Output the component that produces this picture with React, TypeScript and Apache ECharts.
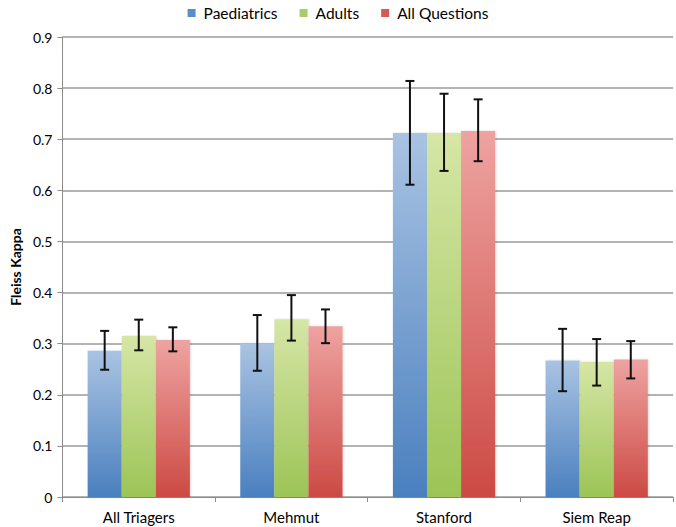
import React, { useEffect, useRef } from "react";
import * as echarts from "echarts";

const categories = ["All Triagers", "Mehmut", "Stanford", "Siem Reap"];
const seriesNames = ["Paediatrics", "Adults", "All Questions"];
const paediatrics = [0.286, 0.301, 0.712, 0.267];
const paediatricsLow = [0.249, 0.247, 0.611, 0.207];
const paediatricsHigh = [0.325, 0.356, 0.814, 0.329];
const adults = [0.315, 0.348, 0.712, 0.264];
const adultsLow = [0.287, 0.306, 0.638, 0.218];
const adultsHigh = [0.347, 0.395, 0.789, 0.309];
const allQuestions = [0.307, 0.334, 0.716, 0.269];
const allQuestionsLow = [0.285, 0.301, 0.657, 0.232];
const allQuestionsHigh = [0.332, 0.367, 0.778, 0.305];

const colorsTop = ["#a9c3e2", "#d6e6a6", "#eea3a1"];
const colorsBottom = ["#4a80bf", "#9cc456", "#cc4a44"];
const legendColors = ["#5b8dc8", "#a8cc6a", "#d45a55"];

const CAT_GAP = 0.33;

export default function App() {
  const ref = useRef<HTMLDivElement>(null);
  useEffect(() => {
    if (!ref.current) return;
    const chart = echarts.init(ref.current, null, { renderer: "svg" });
    const values = [paediatrics, adults, allQuestions];
    const lows = [paediatricsLow, adultsLow, allQuestionsLow];
    const highs = [paediatricsHigh, adultsHigh, allQuestionsHigh];

    const barSeries = seriesNames.map((name, i) => ({
      name,
      type: "bar",
      data: values[i],
      barGap: "0%",
      barCategoryGap: CAT_GAP * 100 + "%",
      itemStyle: {
        color: new echarts.graphic.LinearGradient(0, 0, 0, 1, [
          { offset: 0, color: colorsTop[i] },
          { offset: 1, color: colorsBottom[i] },
        ]),
        shadowColor: "rgba(0,0,0,0.15)",
        shadowBlur: 2,
        shadowOffsetX: 1,
      },
      z: 2,
    }));

    const errSeries = seriesNames.map((name, i) => ({
      type: "custom",
      name: name + " error",
      data: categories.map((_, k) => [k, lows[i][k], highs[i][k]]),
      z: 5,
      renderItem: (params: any, api: any) => {
        const k = api.value(0);
        const lo = api.coord([k, api.value(1)]);
        const hi = api.coord([k, api.value(2)]);
        const band = api.size([1, 0])[0];
        const bw = (band * (1 - CAT_GAP)) / 3;
        const x = lo[0] + (i - 1) * bw;
        const cap = 4.5;
        const style = { stroke: "#111", lineWidth: 2 };
        return {
          type: "group",
          children: [
            { type: "line", shape: { x1: x, y1: lo[1], x2: x, y2: hi[1] }, style },
            { type: "line", shape: { x1: x - cap, y1: lo[1], x2: x + cap, y2: lo[1] }, style },
            { type: "line", shape: { x1: x - cap, y1: hi[1], x2: x + cap, y2: hi[1] }, style },
          ],
        };
      },
    }));

    chart.setOption({
      animation: false,
      backgroundColor: "#ffffff",
      textStyle: { fontFamily: "Lato" },
      legend: {
        data: seriesNames.map((n, i) => ({ name: n, itemStyle: { color: legendColors[i] } })),
        top: 0,
        left: "center",
        itemWidth: 8,
        itemHeight: 8,
        itemGap: 22,
        icon: "rect",
        textStyle: { fontSize: 15.5, color: "#000", fontFamily: "Lato", padding: [0, 0, 0, 3] },
      },
      grid: { left: 58, right: 3, top: 37, bottom: 30, containLabel: false },
      xAxis: {
        type: "category",
        data: categories,
        axisLine: { lineStyle: { color: "#8c8c8c", width: 1 } },
        axisTick: { show: true, length: 5, alignWithLabel: false, lineStyle: { color: "#8c8c8c" } },
        axisLabel: { fontSize: 15, color: "#000", margin: 12, fontFamily: "Lato" },
      },
      yAxis: {
        type: "value",
        min: 0,
        max: 0.9,
        interval: 0.1,
        name: "Fleiss Kappa",
        nameLocation: "middle",
        nameGap: 40,
        nameRotate: 90,
        nameTextStyle: { fontSize: 14, fontWeight: "bold", color: "#000", fontFamily: "Lato" },
        axisLine: { show: true, lineStyle: { color: "#8c8c8c", width: 1 } },
        axisTick: { show: true, length: 5, lineStyle: { color: "#8c8c8c" } },
        axisLabel: {
          fontSize: 14,
          color: "#000",
          margin: 10,
          fontFamily: "Lato",
          formatter: (v: number) => (v === 0 ? "0" : String(Math.round(v * 10) / 10)),
        },
        splitLine: { lineStyle: { color: "#9a9a9a", width: 1.5 } },
      },
      series: [...barSeries, ...errSeries],
    });
    return () => chart.dispose();
  }, []);
  return (
    <div
      ref={ref}
      style={{ position: "fixed", left: 0, top: 0, width: 676, height: 527 }}
    />
  );
}
